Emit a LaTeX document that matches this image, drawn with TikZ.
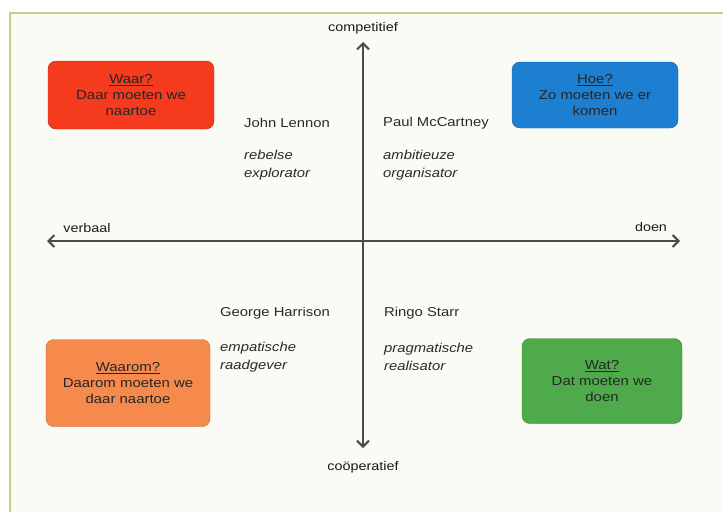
\documentclass[tikz,border=0pt]{standalone}
\usepackage{fontspec}
\setmainfont{Liberation Sans}[FakeStretch=1.15]
\usetikzlibrary{arrows.meta}

\definecolor{paper}{HTML}{FAFBF5}
\definecolor{framecol}{HTML}{CBC98C}
\definecolor{inkgrey}{HTML}{2A2A2A}
\definecolor{axisgrey}{HTML}{4A4A4A}
\definecolor{waarred}{HTML}{F53A1E}
\definecolor{hoeblue}{HTML}{1D7FD2}
\definecolor{waaromorange}{HTML}{F58A4C}
\definecolor{watgreen}{HTML}{4FAA4B}

\tikzset{
  quadbox/.style={draw=#1!75!black, fill=#1, rounded corners=8pt, align=center,
    inner sep=0pt, font=\fontsize{13}{16}\selectfont, text=black!85},
  beatle/.style={anchor=west, inner sep=0pt, font=\fontsize{12.9}{17}\selectfont, text=inkgrey},
  role/.style={anchor=west, inner sep=0pt, align=left, font=\fontsize{12.9}{18}\selectfont\itshape, text=inkgrey},
  axislabel/.style={font=\fontsize{12.5}{15}\selectfont, text=black!90},
  axisline/.style={draw=axisgrey, line width=1.2pt,
    {Straight Barb[length=6pt,width=12pt,line width=2pt]}-{Straight Barb[length=6pt,width=12pt,line width=2pt]}},
}

\begin{document}
\begin{tikzpicture}[x=1pt, y=-1pt]
\useasboundingbox (0,0) rectangle (723,512);
% paper and frame
\fill[paper] (10,13) rectangle (723,512);
\draw[framecol, line width=1.6pt] (10,512) -- (10,13) -- (723,13);

% axes
\coordinate (up) at (363,42);
\coordinate (down) at (363,448);
\coordinate (left) at (47,241);
\coordinate (right) at (680,241);
\draw[axisline] (up) -- (down);
\draw[axisline] (left) -- (right);

\node[axislabel] (competitief) at (363,28) {competitief};
\node[axislabel] (cooperatief) at (363,467) {coöperatief};
\node[axislabel] (verbaal) at (87,228) {verbaal};
\node[axislabel] (doen) at (651,227) {doen};

% the four quadrant boxes
\node[quadbox=waarred, minimum width=166pt, minimum height=68pt] (waar) at (131,95)
  {\underline{Waar?}\\Daar moeten we\\naartoe};
\node[quadbox=hoeblue, minimum width=166pt, minimum height=66pt] (hoe) at (595,95)
  {\underline{Hoe?}\\Zo moeten we er\\komen};
\node[quadbox=waaromorange, minimum width=164pt, minimum height=87pt] (waarom) at (128,383)
  {\underline{Waarom?}\\Daarom moeten we\\daar naartoe};
\node[quadbox=watgreen, minimum width=160pt, minimum height=85pt] (wat) at (602,381)
  {\underline{Wat?}\\Dat moeten we\\doen};

% names and roles
\node[beatle] (john) at (244,123) {John Lennon};
\node[role] (johnrole) at (244,165) {rebelse\\explorator};
\node[beatle] (paul) at (383,123) {Paul McCartney};
\node[role] (paulrole) at (383,165) {ambitieuze\\organisator};
\node[beatle] (george) at (220,313) {George Harrison};
\node[role] (georgerole) at (220,357) {empatische\\raadgever};
\node[beatle] (ringo) at (384,313) {Ringo Starr};
\node[role] (ringorole) at (384,357) {pragmatische\\realisator};
\end{tikzpicture}
\end{document}
